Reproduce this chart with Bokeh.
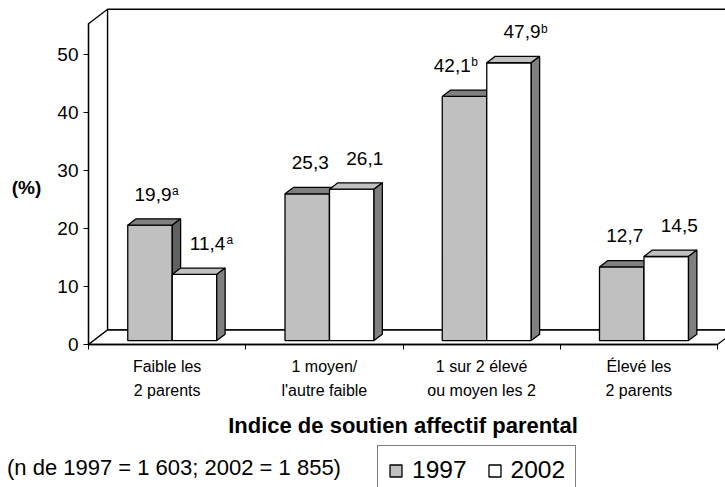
from bokeh.plotting import figure
from bokeh.models import Range1d, FixedTicker, ColumnDataSource, Label, Legend, LegendItem
from bokeh.embed import file_html
from bokeh.resources import INLINE
from bokeh.core.properties import value

# ---------------- data ----------------
categories = ["Faible les\n2 parents", "1 moyen/\nl'autre faible",
              "1 sur 2 élevé\nou moyen les 2", "Élevé les\n2 parents"]
series = ["1997", "2002"]
values_1997 = [19.9, 25.3, 42.1, 12.7]
values_2002 = [11.4, 26.1, 47.9, 14.5]
notes_1997 = ["a", "", "b", ""]
notes_2002 = ["a", "", "b", ""]
y_ticks = [0, 10, 20, 30, 40, 50]
y_title = "(%)"
x_title = "Indice de soutien affectif parental"
sample_note = "(n de 1997 = 1 603; 2002 = 1 855)"

# ---------------- style / geometry ----------------
FONT = "Liberation Sans"
W, H = 725, 487
PX_X = 157.25          # pixels per category
PX_Y = 5.8             # pixels per percent
ORIGIN_X, ORIGIN_Y = 88, 344             # canvas position of (0, 0)
DX, DY = 19 / PX_X, 14.5 / PX_Y          # 3-D depth of the chart box
WALL_TOP = 55.3
BAR_W = 0.283
F0, FD = 0.27, 0.44                      # bar front offset / bar depth (fraction of box depth)
front_colors = ["#c0c0c0", "#ffffff"]
top_colors = ["#808080", "#c0c0c0"]
side_colors = ["#606060", "#808080"]
LW = 1.3
VAL_SIZE = 19          # px
NUM_HALF_W = 18.5      # half width of "dd,d" at VAL_SIZE
SUP_W = 7


def cx_(px):   # canvas x -> data x
    return (px - ORIGIN_X) / PX_X


def cy_(py):   # canvas y -> data y
    return (ORIGIN_Y - py) / PX_Y


ncat = len(categories)
all_vals = [values_1997, values_2002]
all_notes = [notes_1997, notes_2002]

p = figure(width=W, height=H, output_backend="svg", toolbar_location=None, tools="",
           x_range=Range1d(cx_(0), cx_(W)), y_range=Range1d(cy_(H), cy_(0)),
           min_border_left=0, min_border_right=0, min_border_top=0, min_border_bottom=0)
p.outline_line_color = None
p.xgrid.visible = False
p.ygrid.visible = False
p.background_fill_color = "white"
p.border_fill_color = "white"

xs, ys, fills = [], [], []


def face(pts, color):
    xs.append([q[0] for q in pts])
    ys.append([q[1] for q in pts])
    fills.append(color)
    return len(fills) - 1


# walls and floor
xr = ncat + DX
face([(DX, DY), (DX, WALL_TOP + DY), (xr + 1, WALL_TOP + DY), (xr + 1, DY)], "white")
face([(0, 0), (0, WALL_TOP), (DX, WALL_TOP + DY), (DX, DY)], "white")
face([(0, 0), (ncat, 0), (ncat + DX, DY), (DX, DY)], "white")

fx, fy = F0 * DX, F0 * DY
bx, by = FD * DX, FD * DY
legend_idx = [None, None]
lab = {k: dict(x=[], y=[], t=[], sx=[], sy=[], s=[]) for k in range(2)}
label_dx = [3 / PX_X, 13 / PX_X]
for i in range(ncat):
    geo = []
    for k in range(2):
        v = all_vals[k][i]
        x0 = i + 0.5 - BAR_W + k * BAR_W + fx
        x1 = x0 + BAR_W
        y0 = fy
        y1 = fy + v
        geo.append((x0, x1, y1))
        fi = face([(x0, y0), (x1, y0), (x1, y1), (x0, y1)], front_colors[k])
        if legend_idx[k] is None:
            legend_idx[k] = fi
        face([(x0, y1), (x1, y1), (x1 + bx, y1 + by), (x0 + bx, y1 + by)], top_colors[k])
        face([(x1, y0), (x1 + bx, y0 + by), (x1 + bx, y1 + by), (x1, y1)], side_colors[k])
    for k in range(2):
        x0, x1, y1 = geo[k]
        cx = (x0 + x1) / 2 + label_dx[k]
        cy = y1 + 31 / PX_Y
        note = all_notes[k][i]
        if k == 0:
            # keep the 1997 label clear of a taller 2002 bar next to it
            nx0, nx1, ny1 = geo[1]
            right = cx + (NUM_HALF_W + (SUP_W if note else 0)) / PX_X
            if ny1 + by > cy - 8 / PX_Y and right > nx0 - 9 / PX_X:
                cx -= right - (nx0 - 9 / PX_X)
        v = all_vals[k][i]
        lab[k]["x"].append(cx)
        lab[k]["y"].append(cy)
        lab[k]["t"].append(f"{v:.1f}".replace(".", ","))
        lab[k]["sx"].append(cx + (NUM_HALF_W + 0.5) / PX_X)
        lab[k]["sy"].append(cy + 3 / PX_Y)
        lab[k]["s"].append(note)

src = ColumnDataSource(dict(xs=xs, ys=ys, fill=fills))
r = p.patches("xs", "ys", source=src, fill_color="fill", line_color="black", line_width=LW)

for k in range(2):
    ls = ColumnDataSource(lab[k])
    p.text("x", "y", text="t", source=ls, text_font=value(FONT), text_font_size=f"{VAL_SIZE}px",
           text_align="center", text_baseline="middle", text_color="black")
    p.text("sx", "sy", text="s", source=ls, text_font=value(FONT), text_font_size="12px",
           text_align="left", text_baseline="middle", text_color="black")

# axes, pinned at the chart's front corner
yax = p.yaxis[0]
yax.fixed_location = 0
yax.ticker = FixedTicker(ticks=y_ticks, minor_ticks=[])
yax.bounds = (0, WALL_TOP)
yax.axis_line_color = "black"
yax.axis_line_width = LW
yax.major_tick_out = 5
yax.major_tick_in = 0
yax.major_tick_line_color = "black"
yax.major_label_standoff = 5
yax.major_label_text_font = FONT
yax.major_label_text_font_size = "19px"
yax.major_label_text_color = "black"

xax = p.xaxis[0]
xax.fixed_location = 0
centers = [i + 0.5 for i in range(ncat)]
xax.ticker = FixedTicker(ticks=centers, minor_ticks=list(range(ncat + 1)))
xax.major_label_overrides = {c: t for c, t in zip(centers, categories)}
xax.bounds = (0, ncat)
xax.axis_line_color = "black"
xax.axis_line_width = LW
xax.major_tick_line_color = None
xax.major_tick_out = 0
xax.major_tick_in = 0
xax.minor_tick_line_color = "black"
xax.minor_tick_out = 5
xax.minor_tick_in = 0
xax.major_label_standoff = 8
xax.major_label_text_font = FONT
xax.major_label_text_font_size = "16px"
xax.major_label_text_line_height = 1.45
xax.major_label_text_color = "black"
xax.axis_label = x_title
xax.axis_label_text_font = FONT
xax.axis_label_text_font_style = "bold"
xax.axis_label_text_font_size = "22px"
xax.axis_label_text_color = "black"
xax.axis_label_standoff = 11

p.add_layout(Label(x=cx_(26), y=cy_(187), text=y_title,
                   text_font=FONT, text_font_style="bold", text_font_size="19px",
                   text_align="center", text_baseline="middle", text_color="black"))
p.add_layout(Label(x=cx_(6.5), y=cy_(467), text=sample_note,
                   text_font=FONT, text_font_size="22px",
                   text_align="left", text_baseline="middle", text_color="black"))

legend = Legend(items=[LegendItem(label=series[0], renderers=[r], index=legend_idx[0]),
                       LegendItem(label=series[1], renderers=[r], index=legend_idx[1])],
                orientation="horizontal", location=(377, -8),
                label_text_font=FONT, label_text_font_size="24.5px", label_text_color="black",
                glyph_width=15, glyph_height=15, label_standoff=9, spacing=20,
                padding=10, margin=0, border_line_color="black", border_line_width=1,
                background_fill_color="white", background_fill_alpha=1)
p.add_layout(legend)

open("out.html", "w").write(file_html(p, INLINE))
